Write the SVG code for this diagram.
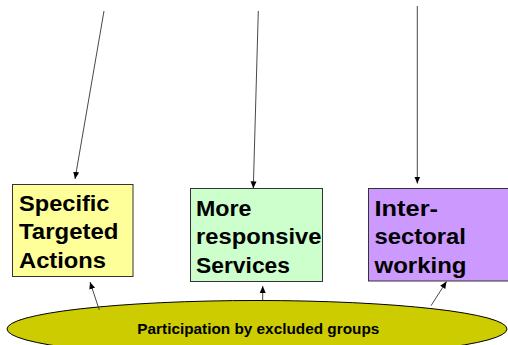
<svg xmlns="http://www.w3.org/2000/svg" width="508" height="345" viewBox="0 0 508 345">
  <style>
    .box { stroke: #333333; stroke-width: 1; }
    .lbl { font-family: "Liberation Sans", Arial, sans-serif; font-weight: bold; font-size: 22px; fill: #000000; }
    .elbl { font-family: "Liberation Sans", Arial, sans-serif; font-weight: bold; font-size: 15px; fill: #000000; text-anchor: middle; }
    .conn { stroke: #333333; stroke-width: 0.9; fill: none; marker-end: url(#arrow); }
  </style>
  <defs>
    <marker id="arrow" markerUnits="userSpaceOnUse" markerWidth="8" markerHeight="8" viewBox="0 0 8 8" refX="7" refY="4" orient="auto">
      <path d="M0,1 L7,4 L0,7 Z" fill="#000000"/>
    </marker>
  </defs>
  <rect width="508" height="345" fill="#ffffff"/>

  <g id="node-specific">
    <rect class="box" x="12.5" y="184.5" width="120.5" height="92" fill="#FFFF99"/>
    <text class="lbl" x="19" y="210.5" textLength="90.5" lengthAdjust="spacingAndGlyphs">Specific</text>
    <text class="lbl" x="19" y="239" textLength="99.5" lengthAdjust="spacingAndGlyphs">Targeted</text>
    <text class="lbl" x="19" y="267.5" textLength="87" lengthAdjust="spacingAndGlyphs">Actions</text>
  </g>

  <g id="node-responsive">
    <rect class="box" x="190.5" y="188.5" width="132" height="93" fill="#CCFFCC"/>
    <text class="lbl" x="196" y="215.5" textLength="55.5" lengthAdjust="spacingAndGlyphs">More</text>
    <text class="lbl" x="196" y="244" textLength="125.5" lengthAdjust="spacingAndGlyphs">responsive</text>
    <text class="lbl" x="196" y="272.5" textLength="94" lengthAdjust="spacingAndGlyphs">Services</text>
  </g>

  <g id="node-intersectoral">
    <rect class="box" x="368.5" y="188.5" width="150" height="92.5" fill="#CC99FF"/>
    <text class="lbl" x="374.5" y="215.5" textLength="63.5" lengthAdjust="spacingAndGlyphs">Inter-</text>
    <text class="lbl" x="374.5" y="244" textLength="91.5" lengthAdjust="spacingAndGlyphs">sectoral</text>
    <text class="lbl" x="374.5" y="272.5" textLength="92" lengthAdjust="spacingAndGlyphs">working</text>
  </g>

  <g id="node-participation">
    <ellipse cx="257" cy="329" rx="250" ry="28.5" fill="#CCCC00" stroke="#000000" stroke-width="1"/>
    <text class="elbl" x="258.3" y="333.5" textLength="242" lengthAdjust="spacingAndGlyphs">Participation by excluded groups</text>
  </g>

  <g id="connectors">
    <line class="conn" x1="104" y1="11" x2="75" y2="179"/>
    <line class="conn" x1="258.3" y1="11" x2="253.3" y2="188.3"/>
    <line class="conn" x1="417.3" y1="6" x2="417.3" y2="183.5"/>
    <line class="conn" x1="99.3" y1="310" x2="90" y2="282"/>
    <line class="conn" x1="262.7" y1="300" x2="262.7" y2="286"/>
    <line class="conn" x1="431" y1="305.7" x2="446.5" y2="281.5"/>
  </g>
</svg>
